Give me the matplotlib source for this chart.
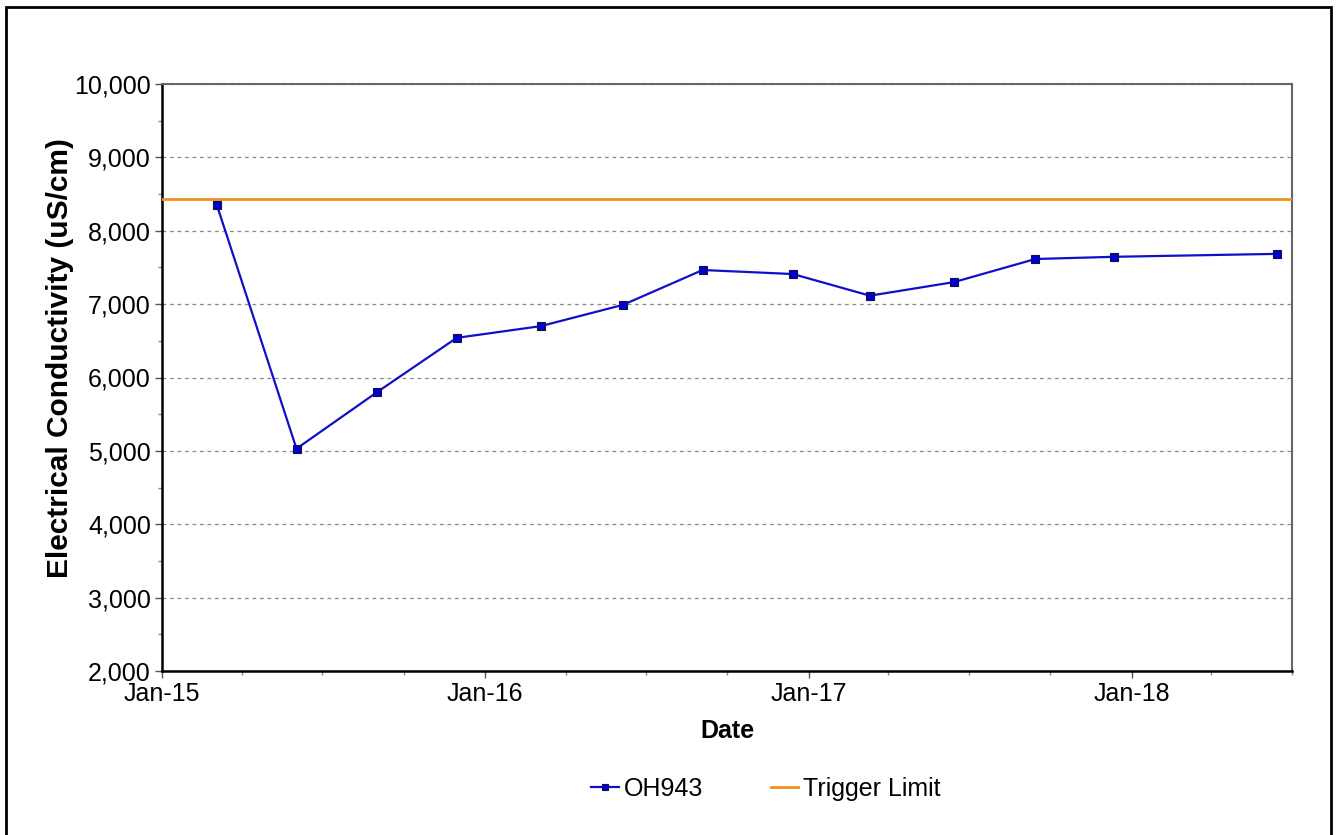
import matplotlib.pyplot as plt
import matplotlib.dates as mdates
import numpy as np
import pandas as pd
from matplotlib.patches import Rectangle
from matplotlib.ticker import FuncFormatter, MultipleLocator

plt.rcParams["font.family"] = ["Liberation Sans", "DejaVu Sans"]

# OH943 electrical conductivity samples
sample_dates = pd.to_datetime([
    "2015-03-04", "2015-06-02", "2015-09-01", "2015-11-30",
    "2016-03-04", "2016-06-05", "2016-09-03", "2016-12-14",
    "2017-03-11", "2017-06-14", "2017-09-14", "2017-12-12",
    "2018-06-14",
])
ec_values = [8350, 5030, 5800, 6540, 6700, 6990, 7465, 7410,
             7115, 7300, 7615, 7645, 7685]
trigger_limit = 8435

fig = plt.figure(figsize=(13.37, 8.35), dpi=100)
ax = fig.add_axes([162 / 1337, 1 - 671 / 835, (1292 - 162) / 1337, (671 - 84) / 835])

ax.axhline(trigger_limit, color="#F0901E", lw=2.0, zorder=3, label="Trigger Limit")
ax.plot(sample_dates, ec_values, color="#1010C8", lw=1.6, marker="s", ms=6.2,
        mfc="#0000D0", mec="#101050", mew=0.8, zorder=4, label="OH943")

ax.set_xlim(pd.Timestamp("2015-01-01"), pd.Timestamp("2018-07-01"))
ax.set_ylim(2000, 10000)

ax.xaxis.set_major_locator(mdates.YearLocator())
ax.xaxis.set_major_formatter(mdates.DateFormatter("%b-%y"))
ax.xaxis.set_minor_locator(mdates.MonthLocator(bymonth=[4, 7, 10]))
ax.yaxis.set_major_locator(MultipleLocator(1000))
ax.yaxis.set_minor_locator(MultipleLocator(500))
ax.yaxis.set_major_formatter(FuncFormatter(lambda v, p: f"{v:,.0f}"))

ax.tick_params(axis="both", which="major", labelsize=18, length=5, width=1, color="#555555")
ax.tick_params(axis="both", which="minor", length=3, width=1, color="#888888")
ax.tick_params(axis="x", pad=3)
ax.tick_params(axis="y", pad=3)

ax.grid(axis="y", which="major", color="#888888", lw=0.9, linestyle=(0, (3, 3)))
ax.set_axisbelow(True)

for side in ("left", "bottom"):
    ax.spines[side].set_linewidth(1.8)
    ax.spines[side].set_color("black")
for side in ("top", "right"):
    ax.spines[side].set_linewidth(1.5)
    ax.spines[side].set_color("#666666")

ax.set_xlabel("Date", fontsize=18, fontweight="bold")
ax.set_ylabel("Electrical Conductivity (uS/cm)", fontsize=21.5, fontweight="bold")
ax.xaxis.set_label_coords(0.5, -0.081)
ax.yaxis.set_label_coords(-0.078, 0.533)

handles, labels = ax.get_legend_handles_labels()
fig.legend(handles[::-1], labels[::-1], loc="center", bbox_to_anchor=(766 / 1337, 1 - 789 / 835),
           ncol=2, frameon=False, fontsize=18, handlelength=1.1, handletextpad=0.2,
           columnspacing=2.7, markerscale=0.8)

# outer frame around the whole chart
fig.add_artist(Rectangle((6 / 1337, -0.01), (1331 - 6) / 1337, 1 - 7 / 835 + 0.01,
                         transform=fig.transFigure, fill=False, lw=2, ec="black"))

fig.savefig("out.png", dpi=100)
